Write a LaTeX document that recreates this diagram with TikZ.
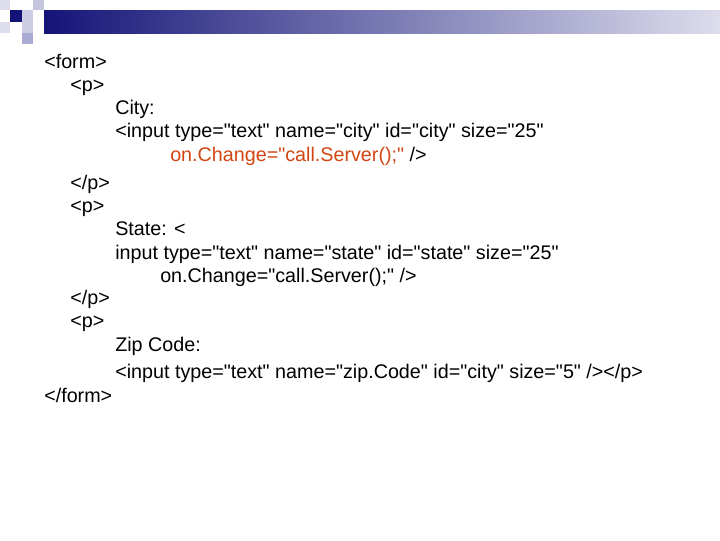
\documentclass[tikz,border=0pt]{standalone}
\usepackage{fontspec}
\setmainfont{Liberation Sans}[Ligatures=TeXOff]
\definecolor{navy}{RGB}{20,20,120}
\definecolor{lnavy}{RGB}{170,170,210}
\definecolor{orng}{RGB}{210,70,20}
\begin{document}
\begin{tikzpicture}[x=0.75pt,y=-0.75pt,
  t/.style={anchor=base west,inner sep=0pt,font=\fontsize{14.8pt}{17pt}\selectfont}]
\useasboundingbox[fill=white] (0,0) rectangle (720,540);
\fill[lnavy!40] (0,0) rectangle (10,10);
\fill[navy] (10,10) rectangle (22,22);
\fill[lnavy!70] (33,0) rectangle (44,10);
\fill[lnavy] (44,10) rectangle (54,22);
\fill[lnavy!60] (22,10) rectangle (33,22);
\fill[lnavy!60] (22,22) rectangle (33,33);
\fill[lnavy!40] (0,22) rectangle (10,33);
\fill[lnavy] (22,33) rectangle (33,44);
\fill[left color=navy,right color=lnavy!40] (44,10) rectangle (720,33);
\node[t] (a1) at (44,68) {<form>};
\node[t] (a2) at (70,91) {<p>};
\node[t] (a3) at (115,114) {City:};
\node[t] (a4) at (115,137) {<input type="text" name="city" id="city" size="25"};
\node[t] (a5) at (170,161) {\textcolor{orng}{on.Change="call.Server();"} />};
\node[t] (a6) at (70,189) {</p>};
\node[t] (a7) at (70,212) {<p>};
\node[t] (a8) at (115,235) {State: <};
\node[t] (a9) at (115,259) {input type="text" name="state" id="state" size="25"};
\node[t] (a10) at (160,282) {on.Change="call.Server();" />};
\node[t] (a11) at (70,304) {</p>};
\node[t] (a12) at (70,327) {<p>};
\node[t] (a13) at (115,351) {Zip Code:};
\node[t] (a14) at (115,378) {<input type="text" name="zip.Code" id="city" size="5" /></p>};
\node[t] (a15) at (44,402) {</form>};
\end{tikzpicture}
\end{document}
